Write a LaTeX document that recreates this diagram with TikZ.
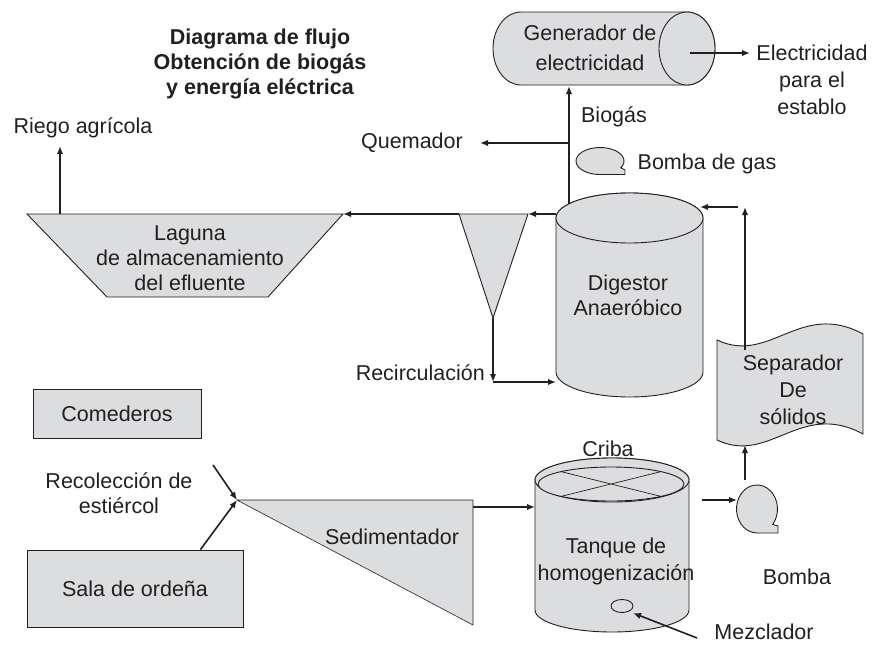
\documentclass[tikz,border=0pt]{standalone}
\usepackage{fontspec}
\setmainfont{Liberation Sans}
\usetikzlibrary{arrows.meta}
\usetikzlibrary{calc}

\definecolor{unitfill}{RGB}{220,221,223}
\definecolor{ink}{RGB}{35,31,32}

\tikzset{
  unit/.style={draw=ink, fill=unitfill, line width=0.9pt},
  flow/.style={->, draw=ink, line width=1.6pt},
  lbl/.style={text=ink, align=center, inner sep=0pt, font=\fontsize{21.5}{25}\selectfont},
}

\begin{document}
\begin{tikzpicture}[x=1pt,y=-1pt,>={Latex[length=8pt,width=6.5pt]}]
            \useasboundingbox (0,0) rectangle (881,646);

            \node[lbl, font=\bfseries\fontsize{21.5}{25}\selectfont] (title) at (260,64) {Diagrama de flujo\\Obtención de biogás\\y energía eléctrica};

            \draw[unit] (521,12) -- (687,12) arc[start angle=-90,end angle=90,x radius=28,y radius=36.5] -- (521,85) arc[start angle=90,end angle=270,x radius=28,y radius=36.5] -- cycle;
            \draw[unit] (687,48.5) ellipse[x radius=28,y radius=36.5];
            \node[lbl] (gen) at (590,48) {Generador de\\[5pt]electricidad};
            \node[lbl] (elec) at (812,80) {Electricidad\\[2pt]para el\\[2pt]establo};
            \coordinate (gen-s) at (569,86);
            \coordinate (gen-e) at (690,53);
            \coordinate (elec-w) at (750,53);

            \draw[unit] (556,218) -- (556,372) arc[start angle=180,end angle=0,x radius=73.5,y radius=25] -- (703,218) arc[start angle=0,end angle=-180,x radius=73.5,y radius=25] -- cycle;
            \draw[unit] (629.5,218) ellipse[x radius=73.5,y radius=25];
            \node[lbl] (dig) at (628,295) {Digestor\\Anaeróbico};
            \coordinate (dig-n) at (569,204);
            \coordinate (dig-w) at (556,214);
            \coordinate (dig-sw) at (556,382);
            \coordinate (dig-ne) at (700,207);

            \draw[unit] (625,174.5) -- (625,170) -- (620.8,167.75) arc[start angle=30,end angle=-270,x radius=24,y radius=13.5] -- cycle;
            \node[lbl] (bgas) at (707,164) {Bomba de gas};
            \node[lbl] (biogas) at (614,117) {Biogás};
            \coordinate (tee) at (569,143);
            \node[lbl] (quem) at (412,143) {Quemador};
            \coordinate (quem-e) at (480,143);

            \draw[unit] (459,214) -- (528,214) -- (493,318) -- cycle;
            \coordinate (fun-w) at (459,214);
            \coordinate (fun-e) at (528,214);
            \coordinate (fun-s) at (493,318);
            \coordinate (rec) at (493,382);
            \node[lbl, anchor=east] (recirc) at (485,373) {Recirculación};

            \draw[unit] (27,214) -- (343,214) -- (268,297) -- (107,297) -- cycle;
            \node[lbl] (lag) at (190,258) {Laguna\\de almacenamiento\\del efluente};
            \coordinate (lag-e) at (343,214);
            \coordinate (lag-n) at (60,214);
            \node[lbl] (riego) at (83,128) {Riego agrícola};
            \coordinate (riego-s) at (60,146);

            \draw[unit] (717,340) .. controls (770,365) and (800,300) .. (863,334) -- (863,434) .. controls (800,400) and (770,465) .. (717,440) -- cycle;
            \node[lbl] (sep) at (793,390) {Separador\\[2pt]De\\[2pt]sólidos};
            \coordinate (sep-in) at (745,350);
            \coordinate (sep-s) at (745,445);
            \coordinate (ret) at (745,207);
            \coordinate (ret-w) at (738,207);

            \draw[unit] (535,480) -- (535,610) arc[start angle=180,end angle=0,x radius=77,y radius=22] -- (689,480) arc[start angle=0,end angle=-180,x radius=77,y radius=22] -- cycle;
            \draw[unit] (612,480) ellipse[x radius=77,y radius=22];
            \draw[unit] (611,484) ellipse[x radius=73,y radius=17];
            \draw[draw=ink, line width=0.7pt] (561,471.6) -- (661,496.4) (561,496.4) -- (661,471.6);
            \draw[unit] (622,606) ellipse[x radius=11,y radius=6.5];
            \node[lbl] (criba) at (608,449) {Criba};
            \node[lbl] (tanque) at (616,561) {Tanque de\\[2pt]homogenización};
            \node[lbl] (mezc) at (764,632) {Mezclador};
            \coordinate (mezc-w) at (697,638);
            \coordinate (mix) at (633,613);
            \coordinate (tank-w) at (535,507);
            \coordinate (tank-e) at (702,500);

            \draw[unit] (757,533) -- (778,533) -- (778,526) -- (772.7,524.4) arc[start angle=40,end angle=-270,x radius=20.5,y radius=24] -- cycle;
            \node[lbl] (bomba) at (797,577) {Bomba};
            \coordinate (pump-w) at (737,500);
            \coordinate (pump-n) at (745,480);

            \draw[unit, line width=0.6pt] (237,500) -- (473,500) -- (473,625) -- cycle;
            \node[lbl] (sed) at (392,537) {Sedimentador};
            \coordinate (sed-w) at (237,500);
            \coordinate (sed-e) at (473,507);

            \node[unit, lbl, minimum width=168, minimum height=49] (com) at (117,413.5) {Comederos};
            \node[unit, lbl, minimum width=216, minimum height=77] (sala) at (135,588.5) {Sala de ordeña};
            \node[lbl] (recol) at (119,493) {Recolección de\\estiércol};
            \coordinate (recol-e) at (213,465);

            \draw[flow] (dig-n) -- (gen-s);
            \draw[flow] (tee) -- (quem-e);
            \draw[flow] (gen-e) -- (elec-w);
            \draw[flow] (dig-w) -- (fun-e);
            \draw[flow] (fun-w) -- (lag-e);
            \draw[flow] (lag-n) -- (riego-s);
            \draw[flow] (fun-s) -- (rec);
            \draw[flow] (rec) -- (dig-sw);
            \draw[flow] (sep-in) -- (ret);
            \draw[flow] (ret-w) -- (dig-ne);
            \draw[flow] (pump-n) -- (sep-s);
            \draw[flow] (tank-e) -- (pump-w);
            \draw[flow] (sed-e) -- (tank-w);
            \draw[flow] (mezc-w) -- (mix);
            \draw[flow] (recol-e) -- (sed-w);
            \draw[flow] ([xshift=-43pt]sala.north east) -- (sed-w);
        \end{tikzpicture}
\end{document}
